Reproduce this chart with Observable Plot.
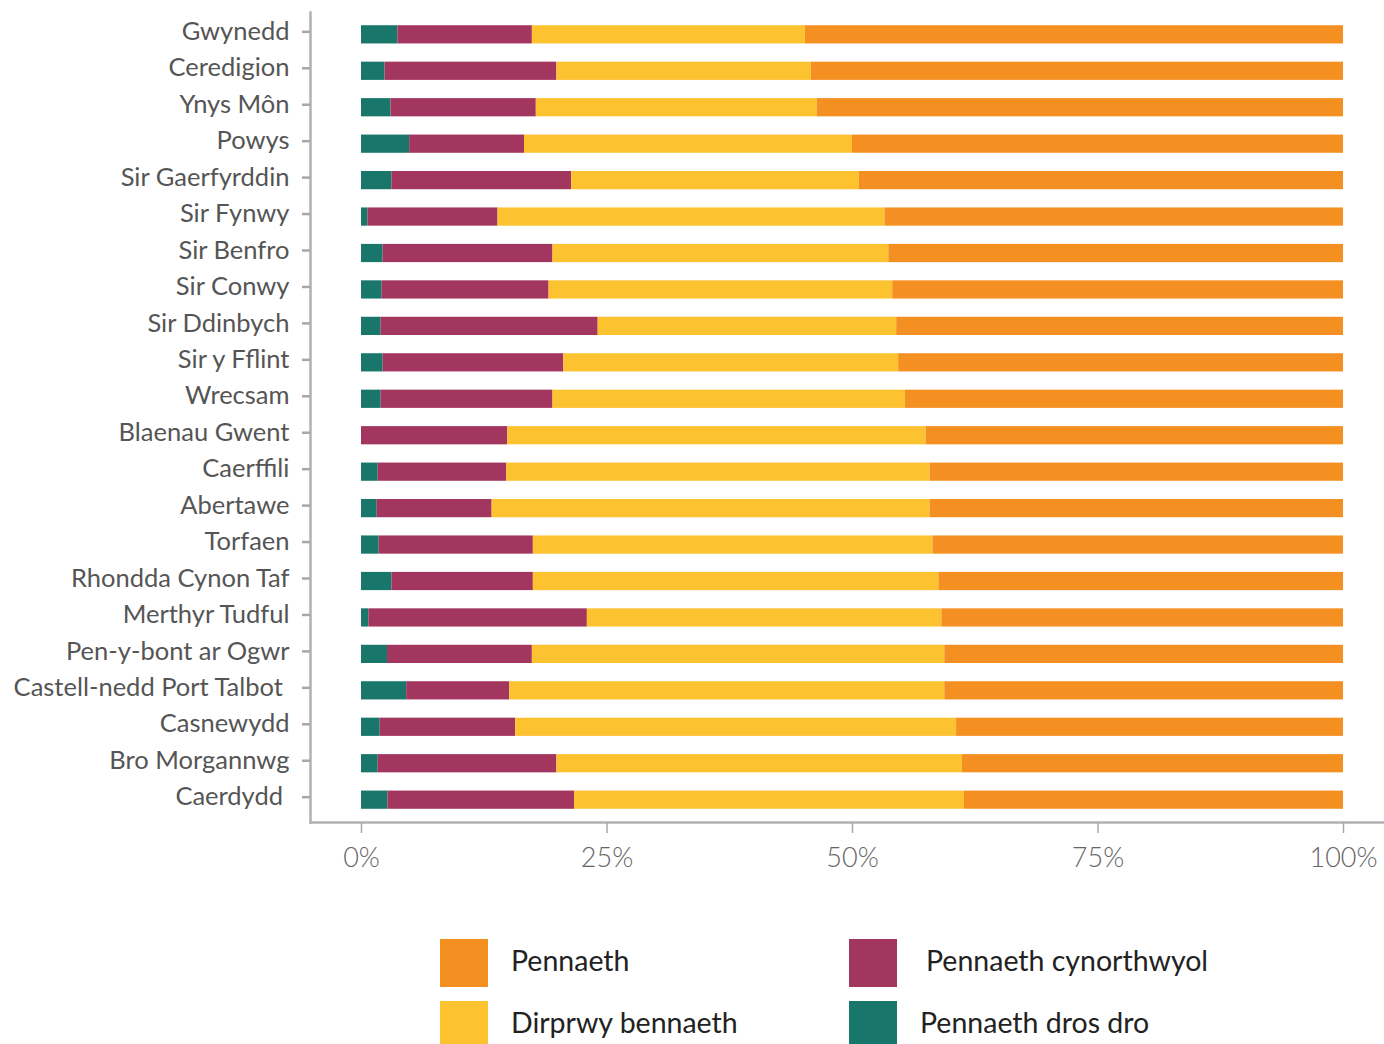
<!DOCTYPE html>
<html>
<head>
<meta charset="utf-8">
<script src="https://cdn.jsdelivr.net/npm/d3@7"></script>
<script src="https://cdn.jsdelivr.net/npm/@observablehq/plot@0.6"></script>
<style>
  body { margin: 0; background: #fff; font-family: Lato, "Noto Sans", sans-serif; }
  #wrap { position: relative; width: 1384px; height: 1044px; }
  #legend { position: absolute; left: 0; top: 0; width: 1384px; height: 1044px; pointer-events: none; }
  .item { position: absolute; display: flex; align-items: center; font-size: 28.5px; color: #222; height: 48px; }
  .sw { width: 48px; height: 48px; flex: none; }
  .item span { position: relative; top: -3px; }
  svg text { white-space: pre; }
</style>
</head>
<body>
<div id="wrap"><div id="chart"></div><div id="legend"></div></div>
<script>
const categories = ["Gwynedd","Ceredigion","Ynys Môn","Powys","Sir Gaerfyrddin","Sir Fynwy","Sir Benfro","Sir Conwy","Sir Ddinbych","Sir y Fflint","Wrecsam","Blaenau Gwent","Caerffili","Abertawe","Torfaen","Rhondda Cynon Taf","Merthyr Tudful","Pen-y-bont ar Ogwr","Castell-nedd Port Talbot ","Casnewydd","Bro Morgannwg","Caerdydd "];
const seriesNames = ["Pennaeth dros dro","Pennaeth cynorthwyol","Dirprwy bennaeth","Pennaeth"];
const drosDro =     [3.7,2.4,3.0,4.9,3.1,0.65,2.2,2.1,2.0,2.2,2.0,0,1.7,1.6,1.8,3.1,0.75,2.65,4.6,1.9,1.7,2.7];
const cynorthwyol = [13.7,17.5,14.8,11.7,18.3,13.25,17.3,17.0,22.1,18.4,17.5,14.9,13.1,11.7,15.7,14.4,22.25,14.75,10.5,13.8,18.2,19.0];
const dirprwy =     [27.8,25.9,28.6,33.4,29.3,39.4,34.2,35.0,30.4,34.1,35.9,42.6,43.1,44.6,40.7,41.3,36.1,42.0,44.3,44.9,41.3,39.7];
const pennaeth =    [54.8,54.2,53.6,50.0,49.3,46.7,46.3,45.9,45.5,45.3,44.6,42.5,42.1,42.1,41.8,41.2,40.9,40.6,40.6,39.4,38.8,38.6];
const colors = ["#18766A","#A3365E","#FCC22F","#F49022"];
const xTicks = [0,25,50,75,100];

const seriesValues = [drosDro, cynorthwyol, dirprwy, pennaeth];
const data = [];
categories.forEach((c, i) => {
  seriesNames.forEach((s, j) => data.push({region: c, series: s, value: seriesValues[j][i]}));
});

const chart = Plot.plot({
  width: 1384,
  height: 900,
  marginTop: 12,
  marginBottom: 78,
  marginLeft: 310,
  marginRight: 0,
  style: {fontFamily: "Lato, 'Noto Sans', sans-serif", background: "#fff"},
  x: {domain: [0, 100], insetLeft: 51, insetRight: 41},
  y: {domain: categories, padding: 0.5, insetTop: -5, insetBottom: -5, round: false},
  color: {domain: seriesNames, range: colors},
  marks: [
    Plot.barX(data, Plot.stackX({x: "value", y: "region", fill: "series", order: seriesNames})),
    Plot.frame({anchor: "left", stroke: "#b1b1b4", strokeWidth: 2.5}),
    Plot.frame({anchor: "bottom", stroke: "#b1b1b4", strokeWidth: 2.5}),
    Plot.axisY({tickSize: 8, tickPadding: 13, fontSize: 25.5, dy: -3, stroke: "#a8a8ab", strokeWidth: 2.5, color: "#555", label: null}),
    Plot.axisX({ticks: xTicks, tickFormat: d => d + "%", tickSize: 11, tickPadding: 14, fontSize: 27, fontWeight: 300, stroke: "#a8a8ab", strokeWidth: 1.5, color: "#666", label: null})
  ]
});
document.getElementById("chart").appendChild(chart);

const legendItems = [
  {name: "Pennaeth", color: colors[3], left: 440, top: 939, gap: 23},
  {name: "Pennaeth cynorthwyol", color: colors[1], left: 849, top: 939, gap: 29},
  {name: "Dirprwy bennaeth", color: colors[2], left: 440, top: 1001, gap: 23},
  {name: "Pennaeth dros dro", color: colors[0], left: 849, top: 1001, gap: 23}
];
const legend = d3.select("#legend");
legendItems.forEach(it => {
  const d = legend.append("div").attr("class", "item").style("left", it.left + "px").style("top", it.top + "px");
  d.append("div").attr("class", "sw").style("background", it.color).style("margin-right", it.gap + "px");
  d.append("span").text(it.name);
});
</script>
</body>
</html>
